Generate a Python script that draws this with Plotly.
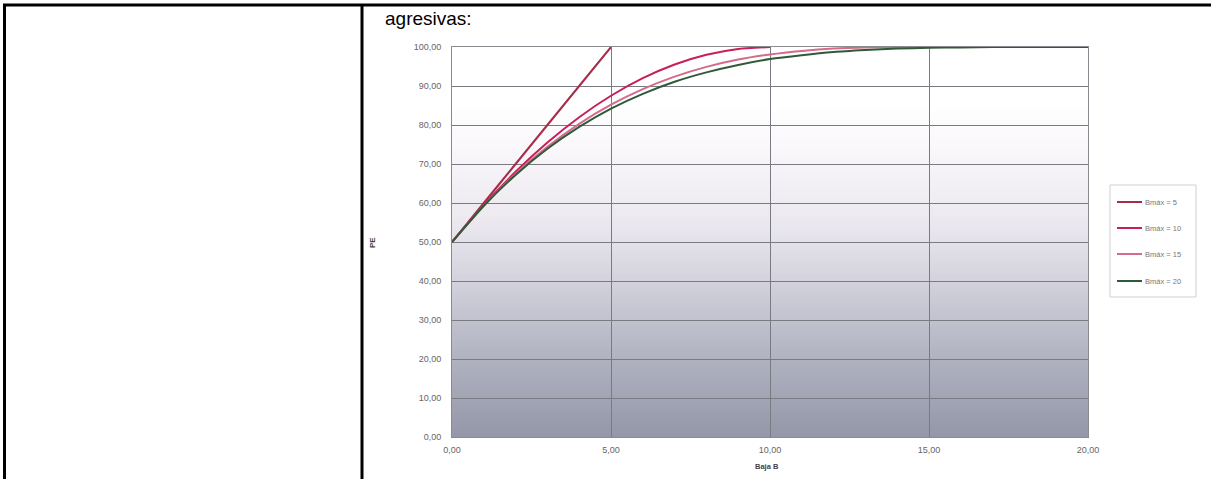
import plotly.graph_objects as go

# ---- data ----
x_b5 = [0, 1, 2, 3, 4, 5]
y_b5 = [50, 60, 70, 80, 90, 100]

x_b10 = [0, 1, 2, 3, 4, 5, 6, 7, 8, 9, 10]
y_b10 = [50, 59.5, 68, 75.5, 82, 87.5, 92, 95.5, 98, 99.5, 100]

x_b15 = [0, 1, 2, 3, 4, 5, 6, 7, 8, 9, 10, 11, 12, 13, 14, 15]
y_b15 = [50, 59.3, 67.5, 74.4, 80.3, 85.2, 89.2, 92.4, 94.9, 96.8, 98.1, 99.0, 99.6, 99.9, 100, 100]

x_b20 = [0, 1, 2, 3, 4, 5, 6, 7, 8, 9, 10, 11, 12, 13, 14, 15, 16, 17, 18, 19, 20]
y_b20 = [50, 59.3, 67.2, 73.9, 79.5, 84.2, 88.0, 91.1, 93.5, 95.4, 96.9, 97.9, 98.7, 99.2,
         99.6, 99.8, 99.9, 100, 100, 100, 100]

series_names = ["Bmáx = 5", "Bmáx = 10", "Bmáx = 15", "Bmáx = 20"]
series_colors = ["#a52d4a", "#c81e5a", "#d46a8c", "#2f5a38"]

x_tickvals = [0, 5, 10, 15, 20]
x_ticktext = ["0,00", "5,00", "10,00", "15,00", "20,00"]
y_tickvals = [0, 10, 20, 30, 40, 50, 60, 70, 80, 90, 100]
y_ticktext = ["0,00", "10,00", "20,00", "30,00", "40,00", "50,00", "60,00",
              "70,00", "80,00", "90,00", "100,00"]

# ---- layout geometry (pixels) ----
W, H = 1211, 479
PL, PR, PT, PB = 452, 1088, 47, 437


def px(xp):
    return (xp - PL) / (PR - PL)


def py(yp):
    return (PB - yp) / (PB - PT)


fig = go.Figure()
data = [(x_b5, y_b5), (x_b10, y_b10), (x_b15, y_b15), (x_b20, y_b20)]
for (xs, ys), name, col in zip(data, series_names, series_colors):
    fig.add_trace(go.Scatter(x=xs, y=ys, mode="lines", name=name, showlegend=False,
                             line=dict(color=col, width=2, shape="spline", smoothing=0.6)))

shapes = []
# gradient background as horizontal bands
stops = [(0.0, (0x94, 0x97, 0xa8)), (0.2, (0xb0, 0xb2, 0xc0)), (0.4, (0xd3, 0xd2, 0xdd)),
         (0.55, (0xeb, 0xe8, 0xef)), (0.75, (0xfa, 0xf8, 0xfb)), (0.86, (0xff, 0xff, 0xff)),
         (1.0, (0xff, 0xff, 0xff))]


def col_at(t):
    for (t0, c0), (t1, c1) in zip(stops[:-1], stops[1:]):
        if t0 <= t <= t1:
            f = (t - t0) / (t1 - t0) if t1 > t0 else 0
            return "rgb(%d,%d,%d)" % tuple(round(a + (b - a) * f) for a, b in zip(c0, c1))
    return "rgb(255,255,255)"


N = 120
for k in range(N):
    y0 = k / N
    y1 = (k + 1) / N
    shapes.append(dict(type="rect", xref="paper", yref="paper", x0=0, x1=1, y0=y0, y1=y1 + 0.002,
                       fillcolor=col_at((y0 + y1) / 2), line=dict(width=0), layer="below"))

# document table borders
shapes.append(dict(type="line", xref="paper", yref="paper", x0=px(3), x1=px(1211), y0=py(5), y1=py(5),
                   line=dict(color="black", width=3)))
shapes.append(dict(type="line", xref="paper", yref="paper", x0=px(4.5), x1=px(4.5), y0=py(4), y1=py(479),
                   line=dict(color="black", width=3)))
shapes.append(dict(type="line", xref="paper", yref="paper", x0=px(362), x1=px(362), y0=py(4), y1=py(479),
                   line=dict(color="black", width=3)))
# legend box
shapes.append(dict(type="rect", xref="paper", yref="paper", x0=px(1110), x1=px(1196), y0=py(297), y1=py(185),
                   line=dict(color="#cfcfcf", width=1), fillcolor="white"))

annotations = [
    dict(text="agresivas:", xref="paper", yref="paper", x=px(383), y=py(18),
         xanchor="left", yanchor="middle", showarrow=False,
         font=dict(family="Liberation Sans, Arial", size=19, color="black")),
    dict(text="<b>PE</b>", xref="paper", yref="paper", x=px(372), y=py(243), textangle=-90,
         xanchor="center", yanchor="middle", showarrow=False,
         font=dict(family="Liberation Sans, Arial", size=8, color="#444")),
    dict(text="<b>Baja B</b>", xref="paper", yref="paper", x=px(767), y=py(466),
         xanchor="center", yanchor="middle", showarrow=False,
         font=dict(family="Liberation Sans, Arial", size=7.5, color="#444")),
]

# manual legend
leg_y = [202, 228, 254, 281]
for name, col, ly in zip(series_names, series_colors, leg_y):
    shapes.append(dict(type="line", xref="paper", yref="paper", x0=px(1117), x1=px(1142),
                       y0=py(ly), y1=py(ly), line=dict(color=col, width=2)))
    annotations.append(dict(text=name, xref="paper", yref="paper", x=px(1143), y=py(ly),
                            xanchor="left", yanchor="middle", showarrow=False,
                            font=dict(family="Liberation Sans, Arial", size=7.5, color="#777")))

fig.update_layout(
    width=W, height=H,
    margin=dict(l=PL, r=W - PR, t=PT, b=H - PB, pad=0),
    paper_bgcolor="white", plot_bgcolor="rgba(0,0,0,0)",
    shapes=shapes,
    annotations=annotations,
    showlegend=False,
    font=dict(family="Liberation Sans, Arial", color="#555"),
)
fig.update_xaxes(range=[0, 20], tickvals=x_tickvals, ticktext=x_ticktext,
                 showgrid=True, gridcolor="#7a7a82", gridwidth=1,
                 showline=True, linecolor="#8a8a90", mirror=True, zeroline=False,
                 ticks="", tickfont=dict(size=9, color="#666"), ticklabelstandoff=4)
fig.update_yaxes(range=[0, 100], tickvals=y_tickvals, ticktext=y_ticktext,
                 showgrid=True, gridcolor="#7a7a82", gridwidth=1,
                 showline=True, linecolor="#8a8a90", mirror=True, zeroline=False,
                 ticks="", tickfont=dict(size=9, color="#666"), ticklabelstandoff=8)

fig.write_html("out.html", config={"displayModeBar": False},
               post_script="document.body.style.margin='0';document.body.style.overflow='hidden';")
